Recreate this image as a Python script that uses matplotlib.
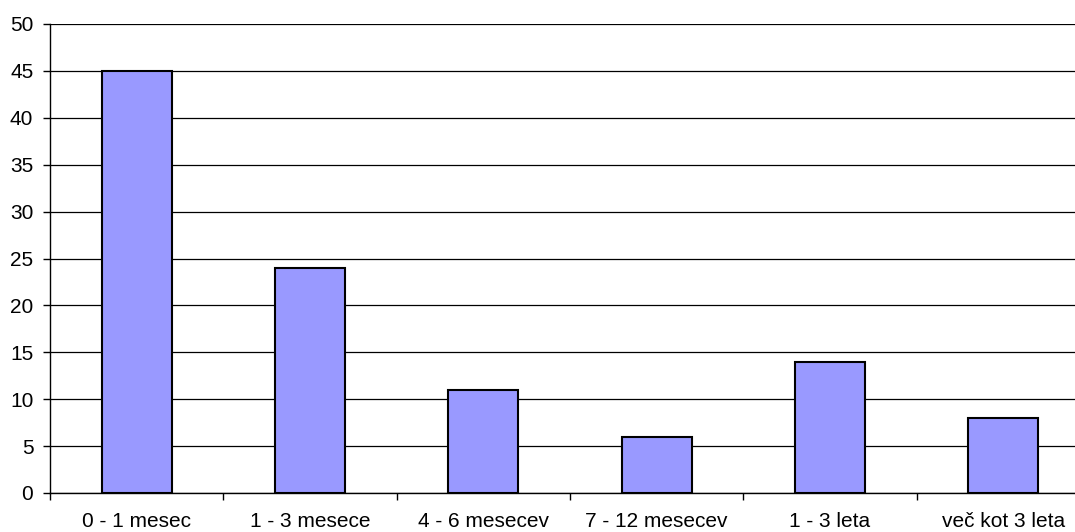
import matplotlib
matplotlib.use("Agg")
import matplotlib.pyplot as plt
import numpy as np

categories = ["0 - 1 mesec", "1 - 3 mesece", "4 - 6 mesecev", "7 - 12 mesecev", "1 - 3 leta", "več kot 3 leta"]
values = [45, 24, 11, 6, 14, 8]
yticks = [0, 5, 10, 15, 20, 25, 30, 35, 40, 45, 50]

plt.rcParams['font.family'] = ['Liberation Sans', 'DejaVu Sans']

W, H = 1075, 532
fig = plt.figure(figsize=(W/100, H/100), dpi=100)
left, right, top, bottom = 50, 1090, 24, 493
ax = fig.add_axes([left/W, (H-bottom)/H, (right-left)/W, (bottom-top)/H])

x = np.arange(len(categories))
ax.bar(x, values, width=0.405, color='#9999FF', edgecolor='black', linewidth=1.5, zorder=3)
ax.set_xlim(-0.5, len(categories)-0.5)
ax.set_ylim(0, 50)
ax.set_yticks(yticks)
ax.yaxis.grid(True, color='black', linewidth=0.9, zorder=0)
ax.set_axisbelow(True)
for s in ['top', 'right']:
    ax.spines[s].set_visible(False)
ax.spines['left'].set_linewidth(1.0)
ax.spines['bottom'].set_linewidth(1.0)
ax.spines['left'].set_zorder(4)
ax.spines['bottom'].set_zorder(4)

ax.set_xticks(np.arange(len(categories)+1) - 0.5, minor=False)
ax.set_xticklabels([])
ax.set_xticks(x, minor=True)
ax.set_xticklabels(categories, minor=True, fontsize=15)
ax.tick_params(axis='x', which='major', length=5, direction='out', width=1)
ax.tick_params(axis='x', which='minor', length=0, pad=13.5)
ax.tick_params(axis='y', length=5, width=1, labelsize=15, pad=7)

fig.savefig("out.png", dpi=100)
